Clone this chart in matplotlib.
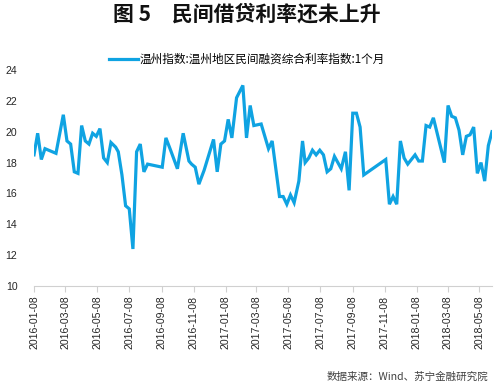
import matplotlib
matplotlib.use("Agg")
import matplotlib.pyplot as plt
import matplotlib.dates as mdates
import pandas as pd

plt.rcParams['font.family'] = ['Noto Sans CJK SC', 'DejaVu Sans']

title = "图 5　民间借贷利率还未上升"
series_name = "温州指数:温州地区民间融资综合利率指数:1个月"
source = "数据来源：Wind、苏宁金融研究院"

dates = [
    '2016-01-08', '2016-01-15', '2016-01-22', '2016-01-29', '2016-02-19', '2016-03-04', '2016-03-11',
    '2016-03-18', '2016-03-25', '2016-04-01', '2016-04-08', '2016-04-15', '2016-04-22', '2016-04-29',
    '2016-05-06', '2016-05-13', '2016-05-20', '2016-05-27', '2016-06-03', '2016-06-12', '2016-06-17',
    '2016-06-24', '2016-07-01', '2016-07-08', '2016-07-15', '2016-07-22', '2016-07-29', '2016-08-05',
    '2016-08-12', '2016-09-09', '2016-09-16', '2016-09-25', '2016-10-08', '2016-10-19', '2016-10-30',
    '2016-11-04', '2016-11-11', '2016-11-18', '2016-11-28', '2016-12-16', '2016-12-23', '2016-12-30',
    '2017-01-06', '2017-01-13', '2017-01-20', '2017-01-29', '2017-02-10', '2017-02-17', '2017-02-24',
    '2017-03-03', '2017-03-17', '2017-03-31', '2017-04-07', '2017-04-21', '2017-04-28', '2017-05-05',
    '2017-05-12', '2017-05-19', '2017-05-28', '2017-06-04', '2017-06-09', '2017-06-16', '2017-06-23',
    '2017-06-30', '2017-07-07', '2017-07-14', '2017-07-21', '2017-07-28', '2017-08-04', '2017-08-17',
    '2017-08-25', '2017-09-01', '2017-09-08', '2017-09-15', '2017-09-22', '2017-09-29', '2017-11-10',
    '2017-11-17', '2017-11-24', '2017-12-01', '2017-12-08', '2017-12-15', '2017-12-22',
    '2018-01-05', '2018-01-12', '2018-01-19', '2018-01-26', '2018-02-02', '2018-02-09', '2018-03-02',
    '2018-03-09', '2018-03-16', '2018-03-23', '2018-03-30', '2018-04-06', '2018-04-13', '2018-04-20',
    '2018-04-27', '2018-05-04', '2018-05-11', '2018-05-18', '2018-05-25', '2018-06-01']

values = [
    18.5, 19.9, 18.2, 18.9, 18.6, 21.1, 19.4, 19.2, 17.4, 17.3,
    20.4, 19.4, 19.2, 19.9, 19.7, 20.2, 18.3, 18.0, 19.3, 19.0,
    18.7, 17.2, 15.2, 15.0, 12.4, 18.7, 19.2, 17.4, 17.9, 17.7,
    19.6, 18.8, 17.6, 19.9, 18.1, 17.9, 17.7, 16.6, 17.5, 19.5,
    17.4, 19.2, 19.4, 20.8, 19.6, 22.2, 23.0, 19.6, 21.7, 20.4,
    20.5, 18.9, 19.4, 15.8, 15.8, 15.3, 15.9, 15.4, 16.8, 19.4,
    18.0, 18.3, 18.8, 18.5, 18.8, 18.5, 17.4, 17.6, 18.4, 17.6,
    18.7, 16.2, 21.2, 21.2, 20.3, 17.2, 18.2, 15.3, 15.8, 15.3,
    19.4, 18.3, 17.9, 18.5, 18.1, 18.1, 20.4, 20.3, 20.9, 18.0,
    21.7, 21.0, 20.9, 20.1, 18.5, 19.7, 19.8, 20.3, 17.3, 18.0,
    16.8, 19.1, 20.0]

tick_labels = ['2016-01-08', '2016-03-08', '2016-05-08', '2016-07-08', '2016-09-08', '2016-11-08',
               '2017-01-08', '2017-03-08', '2017-05-08', '2017-07-08', '2017-09-08', '2017-11-08',
               '2018-01-08', '2018-03-08', '2018-05-08']
y_ticks = [10, 12, 14, 16, 18, 20, 22, 24]

x = pd.to_datetime(dates)
xt = pd.to_datetime(tick_labels)

fig = plt.figure(figsize=(5.04, 3.89), dpi=100)
ax = fig.add_axes([34 / 504, 103 / 389, 458 / 504, 216 / 389])

line, = ax.plot(x, values, color='#0FA3E2', lw=2.3, solid_joinstyle='miter', label=series_name)

ax.set_ylim(10, 24)
ax.set_yticks(y_ticks)
ax.set_xlim(x[0], x[-1])
ax.set_xticks(xt)
ax.set_xticklabels(tick_labels, rotation=90, fontsize=7.6, family='Liberation Sans', color='#262626')
for lab in ax.get_yticklabels():
    lab.set_family('Liberation Sans')
ax.tick_params(axis='y', length=0, pad=12, labelsize=7.6, labelcolor='#262626')
ax.tick_params(axis='x', length=4, width=0.8, color='#D0D0D0', pad=3)

for s in ['left', 'right', 'top']:
    ax.spines[s].set_visible(False)
ax.spines['bottom'].set_color('#D0D0D0')
ax.spines['bottom'].set_linewidth(0.8)

fig.text(246.5 / 504, 1 - 14 / 389, title, ha='center', va='center', fontsize=15, fontweight='bold', color='#111111')

fig.legend(handles=[line], loc='center', bbox_to_anchor=(0.49, 1 - 59.5 / 389), frameon=False,
           fontsize=8.4, handlelength=2.5, handletextpad=0.2, borderaxespad=0)

fig.text(488 / 504, 1 - 377 / 389, source, ha='right', va='center', fontsize=7.6, color='#404040',
         style='italic')

fig.savefig('out.png', dpi=100, facecolor='white')
